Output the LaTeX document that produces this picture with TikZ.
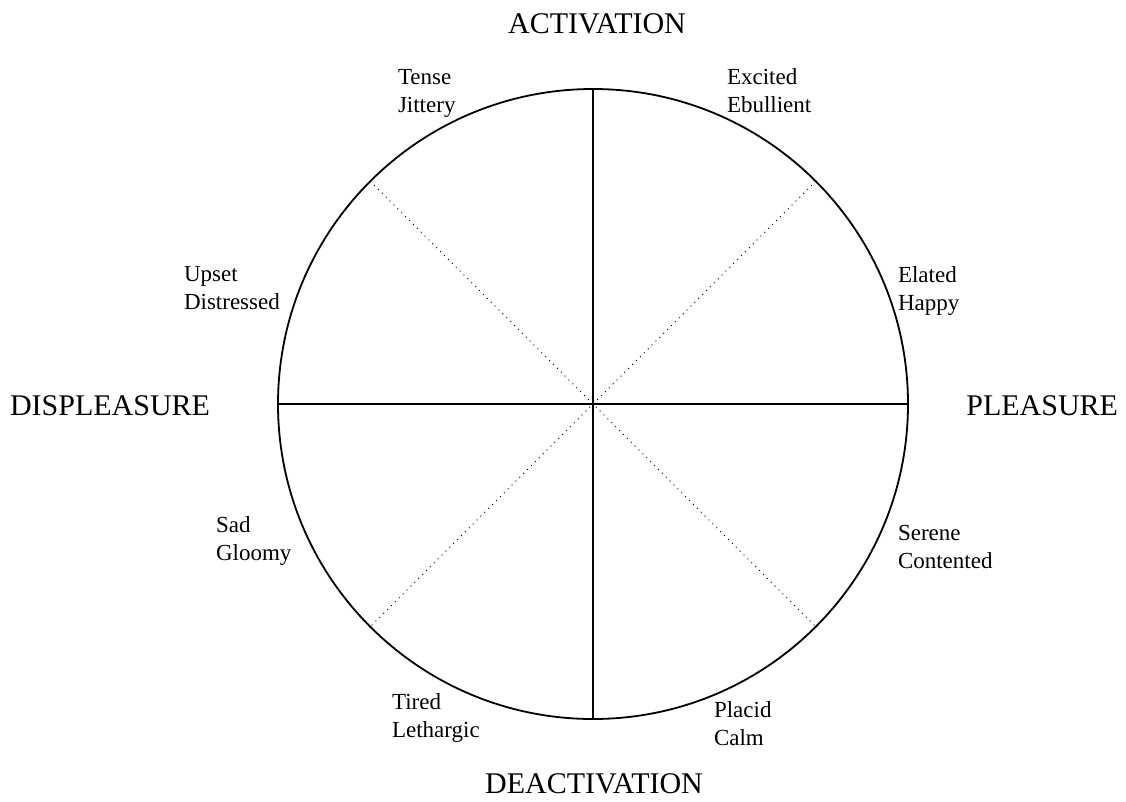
\documentclass[tikz,border=0pt]{standalone}
\usepackage{fontspec}
\setmainfont{Liberation Serif}
\usetikzlibrary{positioning}
\tikzset{main base/.style={inner sep=0pt,outer sep=0pt}, }
\tikzset{main circle/.style={circle,draw,main base,line width=1.8pt,minimum size=630pt}, }
\tikzset{main axis/.style={main base,font=\fontsize{30}{35}\selectfont}, }
\tikzset{main verb/.style={main base,align=left,font=\fontsize{23}{28}\selectfont}, }
\tikzset{linea/.style={draw,line width=1.8pt}}
\tikzset{linea2/.style={draw,line width=0.9pt,dash pattern=on 1pt off 4.5pt}}

\begin{document}
\begin{tikzpicture}[x=1pt,y=-1pt]
  \useasboundingbox (0,0) rectangle (1126,801);
  \node[main circle] (c) at (593,404) {};
  %
  \node[main axis,anchor=base] (up) at (597,33) {ACTIVATION};
  \node[main axis,anchor=base] (down) at (594,793) {DEACTIVATION};
  \node[main axis,anchor=base west] (left) at (10,415) {DISPLEASURE};
  \node[main axis,anchor=base east] (right) at (1118,415) {PLEASURE};
  %
  \foreach \n/\x/\y/\t in {1/398/112/Tense\\Jittery,
                           2/727/112/Excited\\Ebullient,
                           3/184/309/Upset\\Distressed,
                           4/898/310/Elated\\Happy,
                           5/216/560/Sad\\Gloomy,
                           6/898/568/Serene\\Contented,
                           7/392/737/Tired\\Lethargic,
                           8/714/745/Placid\\Calm}
    \node[main verb,anchor=base west] (\n) at (\x,\y) {\t};
  %
  \path[linea] (c.north) -- (c.south);
  \path[linea] (c.west) -- (c.east);
  \path[linea2] (c.45) -- (c.225);
  \path[linea2] (c.135) -- (c.315);
\end{tikzpicture}
\end{document}
